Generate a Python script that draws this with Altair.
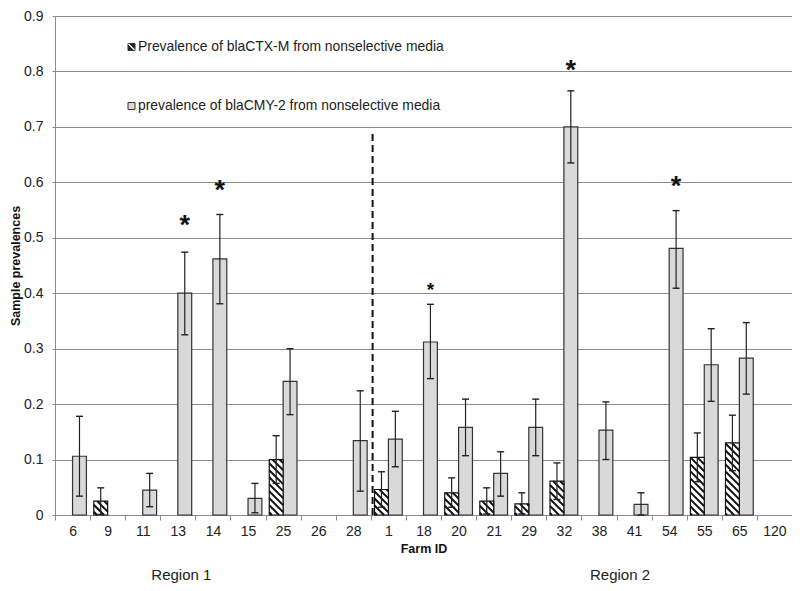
import altair as alt
import pandas as pd
import numpy as np

# ---------------- data ----------------
farms = ["6", "9", "11", "13", "14", "15", "25", "26", "28",
         "1", "18", "20", "21", "29", "32", "38", "41", "54", "55", "65", "120"]
ctx    = [0, 0.025, 0, 0, 0, 0, 0.100, 0, 0, 0.046, 0, 0.040, 0.025, 0.020, 0.061, 0, 0, 0, 0.104, 0.130, 0]
ctx_lo = [0, 0.001, 0, 0, 0, 0, 0.057, 0, 0, 0.014, 0, 0.014, 0.002, 0.002, 0.028, 0, 0, 0, 0.060, 0.080, 0]
ctx_hi = [0, 0.049, 0, 0, 0, 0, 0.143, 0, 0, 0.078, 0, 0.067, 0.049, 0.040, 0.094, 0, 0, 0, 0.148, 0.180, 0]
cmy    = [0.106, 0, 0.045, 0.400, 0.462, 0.030, 0.241, 0, 0.134, 0.137, 0.312, 0.158, 0.075, 0.158,
          0.700, 0.153, 0.019, 0.481, 0.271, 0.283, 0]
cmy_lo = [0.034, 0, 0.015, 0.325, 0.381, 0.004, 0.181, 0, 0.043, 0.087, 0.246, 0.107, 0.034, 0.107,
          0.635, 0.100, 0.000, 0.409, 0.205, 0.218, 0]
cmy_hi = [0.178, 0, 0.075, 0.474, 0.542, 0.057, 0.300, 0, 0.224, 0.187, 0.380, 0.209, 0.114, 0.209,
          0.765, 0.204, 0.040, 0.549, 0.336, 0.347, 0]

star_farms = ["13", "14", "18", "32", "54"]
star_pos = [0.53, 0.593, 0.414, 0.81, 0.60]
star_size = [27, 27, 19, 27, 27]

regions = ["Region 1", "Region 2"]
region_pos = [3.6, 16.1]

separator_x = [9.05]
separator_top = [0.69]

legend_labels = ["Prevalence of blaCTX-M from nonselective media",
                 "prevalence of blaCMY-2 from nonselective media"]

# ---------------- layout ----------------
W, H = 737, 499
PAD = {"left": 47, "top": 8, "right": 0, "bottom": 68}
N = len(farms)
YMAX = 0.9
BW = 0.395              # bar width in band units
sx = W / N
sy = H / YMAX
FONT = "Liberation Sans, Arial, sans-serif"

# ---------------- tables ----------------
rows = []
for i, f in enumerate(farms):
    rows.append(dict(farm=f, s="ctx", v=ctx[i], lo=ctx_lo[i], hi=ctx_hi[i],
                     x0=i + 0.5 - BW, x1=i + 0.5, xc=i + 0.5 - BW / 2))
    rows.append(dict(farm=f, s="cmy", v=cmy[i], lo=cmy_lo[i], hi=cmy_hi[i],
                     x0=i + 0.5, x1=i + 0.5 + BW, xc=i + 0.5 + BW / 2))
bars = pd.DataFrame(rows)
bars["zero"] = 0.0
bars_nz = bars[bars.v > 0]

cap_half = 3.5 / sx
caps = []
for _, r in bars_nz.iterrows():
    for yv in (r.lo, r.hi):
        caps.append(dict(xa=r.xc - cap_half, xb=r.xc + cap_half, y=yv))
caps = pd.DataFrame(caps)

# diagonal hatch segments for blaCTX-M bars (derived from the bar values)
step = 7.0
segs = []
for i, v in enumerate(ctx):
    if v <= 0:
        continue
    x0p = (i + 0.5 - BW) * sx
    x1p = (i + 0.5) * sx
    hp = v * sy
    kmin = int(np.floor(x0p / step)) - 1
    kmax = int(np.ceil((x1p + hp) / step)) + 1
    for k in range(kmin, kmax + 1):
        c = k * step
        lo = max(x0p, c - hp)
        hi = min(x1p, c)
        if hi - lo < 0.6:
            continue
        segs.append(dict(xa=lo / sx, ya=(c - lo) / sy, xb=hi / sx, yb=(c - hi) / sy))
segs = pd.DataFrame(segs)

idx = {f: i for i, f in enumerate(farms)}
stars = pd.DataFrame({
    "x": [idx[f] + 0.5 + BW / 2 for f in star_farms],
    "y": star_pos,
    "size": star_size,
})

reg = pd.DataFrame({"t": regions, "x": region_pos})
sep = pd.DataFrame({"x": separator_x, "top": separator_top, "bot": [0.0]})

xscale = alt.Scale(domain=[0, N], nice=False, zero=False)
yscale = alt.Scale(domain=[0, YMAX], nice=False, zero=False)

label_arr = "[" + ",".join("'" + f + "'" for f in farms) + "]"

x_axis = alt.Axis(
    values=list(range(N + 1)),
    labelExpr=label_arr + "[datum.value] || ''",
    labelOffset=sx / 2,
    labelFlush=False,
    labelOverlap=False,
    labelFont=FONT, labelFontSize=14, labelColor="#222",
    labelPadding=4,
    tickSize=5, tickColor="#8c8c8c", domainColor="#8c8c8c",
    grid=False,
    title="Farm ID", titleFont=FONT, titleFontSize=12.5, titleFontWeight="bold",
    titleColor="#111", titlePadding=4,
)
y_axis = alt.Axis(
    values=[round(0.1 * k, 1) for k in range(10)],
    labelExpr="datum.value == 0 ? '0' : format(datum.value, '.1f')",
    labelFont=FONT, labelFontSize=14, labelColor="#222",
    labelPadding=9, tickSize=3, tickColor="#8c8c8c",
    domainColor="#8c8c8c", gridColor="#8c8c8c", gridWidth=1,
    title="Sample prevalences", titleFont=FONT, titleFontSize=12.5,
    titleFontWeight="bold", titleColor="#111", titlePadding=1,
)


def X(field):
    return alt.X(field, scale=xscale, axis=x_axis)


def Y(field):
    return alt.Y(field, scale=yscale, axis=y_axis)


cmy_bars = alt.Chart(bars_nz[bars_nz.s == "cmy"]).mark_rect(
    fill="#d9d9d9", stroke="#333333", strokeWidth=1.2
).encode(x=X("x0:Q"), x2="x1:Q", y=Y("v:Q"), y2="zero:Q")

ctx_fill = alt.Chart(bars_nz[bars_nz.s == "ctx"]).mark_rect(
    fill="white", strokeWidth=0
).encode(x=X("x0:Q"), x2="x1:Q", y=Y("v:Q"), y2="zero:Q")

hatch = alt.Chart(segs).mark_rule(color="#111", strokeWidth=2).encode(
    x=X("xa:Q"), x2="xb:Q", y=Y("ya:Q"), y2="yb:Q"
)

ctx_outline = alt.Chart(bars_nz[bars_nz.s == "ctx"]).mark_rect(
    fillOpacity=0, stroke="#111", strokeWidth=1.2
).encode(x=X("x0:Q"), x2="x1:Q", y=Y("v:Q"), y2="zero:Q")

err = alt.Chart(bars_nz).mark_rule(color="#222", strokeWidth=1.2).encode(
    x=X("xc:Q"), y=Y("lo:Q"), y2="hi:Q"
)

err_caps = alt.Chart(caps).mark_rule(color="#222", strokeWidth=1.4).encode(
    x=X("xa:Q"), x2="xb:Q", y=Y("y:Q")
)

star_marks = alt.Chart(stars).mark_text(
    text="*", font=FONT, fontWeight="bold", baseline="middle", align="center",
    color="#111", dy=5
).encode(
    x=X("x:Q"), y=Y("y:Q"),
    size=alt.Size("size:Q", scale=None, legend=None),
)

separator = alt.Chart(sep).mark_rule(
    color="#111", strokeWidth=2, strokeDash=[7, 4]
).encode(x=X("x:Q"), y=Y("bot:Q"), y2="top:Q")

region_text = alt.Chart(reg).mark_text(
    font=FONT, fontSize=15, color="#222", baseline="middle", align="center"
).encode(x=X("x:Q"), y=alt.value(H + 60), text="t:N")

# ---------------- legend (inside plot, pixel placed) ----------------
legend_rows = [
    dict(py=31, fill="#222222", diag=True),
    dict(py=90, fill="#d9d9d9", diag=False),
]
leg_layers = []
for lab, lr in zip(legend_labels, legend_rows):
    d = pd.DataFrame({"t": [lab]})
    leg_layers.append(
        alt.Chart(d).mark_rect(stroke="#333", strokeWidth=1, fill=lr["fill"]).encode(
            x=alt.value(73), x2=alt.value(80),
            y=alt.value(lr["py"] - 3.5), y2=alt.value(lr["py"] + 3.5),
        )
    )
    if lr["diag"]:
        leg_layers.append(
            alt.Chart(d).mark_rule(color="white", strokeWidth=1.3).encode(
                x=alt.value(73.5), x2=alt.value(79.5),
                y=alt.value(lr["py"] - 3), y2=alt.value(lr["py"] + 3),
            )
        )
    leg_layers.append(
        alt.Chart(d).mark_text(
            font=FONT, fontSize=13.9, color="#222", align="left", baseline="middle"
        ).encode(x=alt.value(83), y=alt.value(lr["py"]), text="t:N")
    )

chart = alt.layer(
    cmy_bars, ctx_fill, hatch, ctx_outline, err, err_caps, star_marks,
    separator, region_text, *leg_layers,
).properties(
    width=W, height=H,
    padding=PAD,
    autosize=alt.AutoSizeParams(type="none"),
    background="white",
).configure_view(strokeWidth=0)

chart.save("out.html", embed_options={"renderer": "svg", "actions": False})
